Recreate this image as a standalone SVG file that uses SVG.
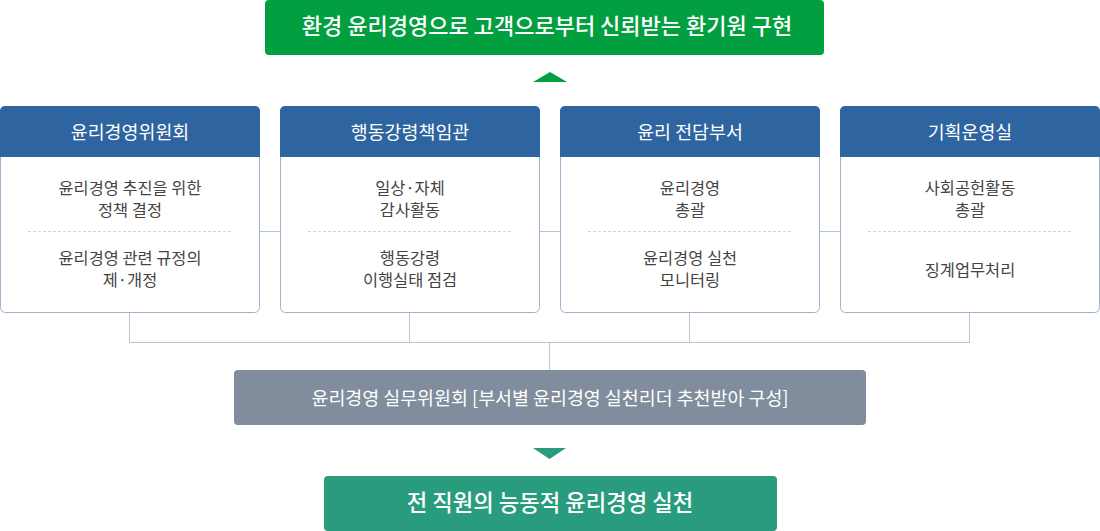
<svg xmlns="http://www.w3.org/2000/svg" width="1100" height="531" viewBox="0 0 1100 531">
<style>
text{font-family:"Noto Sans CJK KR","Noto Sans",sans-serif;text-anchor:middle}
.hd{fill:#fff;font-size:18.4px}
.bd{fill:#444;font-size:16.4px}
.frame{fill:#fff;stroke:#9fb3cc;stroke-width:1}
.head{fill:#2e64a0}
.sep{stroke:#d4d4d4;stroke-width:1;stroke-dasharray:3 2}
.con{fill:none;stroke:#b8c5d5;stroke-width:1}
</style>
<g id="goal">
<rect x="265" y="0" width="559" height="55" rx="4" fill="#029f40"/>
<text x="547" y="33.5" fill="#fff" font-size="22px" font-weight="500">환경 윤리경영으로 고객으로부터 신뢰받는 환기원 구현</text>
</g>
<g id="connectors">
<polygon points="550,72 567,82 533,82" fill="#029f40"/>
<path class="con" d="M259.5 231.5H280.5M539.5 231.5H560.5M819.5 231.5H840.5"/>
<path class="con" d="M129.5 312.5V342.5M409.5 312.5V342.5M689.5 312.5V342.5M969.5 312.5V342.5M129.5 342.5H969.5M549.5 342.5V370"/>
<polygon points="533,448 566,448 549.5,459" fill="#289c7d"/>
</g>
<g id="node1">
<rect class="frame" x="0.5" y="106.5" width="259" height="206" rx="5"/>
<path class="head" d="M0 111a5 5 0 0 1 5-5h250a5 5 0 0 1 5 5v46h-260z"/>
<text class="hd" x="130" y="139.3">윤리경영위원회</text>
<text class="bd" x="130" y="193.6">윤리경영 추진을 위한</text>
<text class="bd" x="130" y="216">정책 결정</text>
<line class="sep" x1="28" y1="231.5" x2="233" y2="231.5"/>
<text class="bd" x="130" y="263.6">윤리경영 관련 규정의</text>
<text class="bd" x="130" y="285.6">제·개정</text>
</g>
<g id="node2">
<rect class="frame" x="280.5" y="106.5" width="259" height="206" rx="5"/>
<path class="head" d="M280 111a5 5 0 0 1 5-5h250a5 5 0 0 1 5 5v46h-260z"/>
<text class="hd" x="410" y="139.3">행동강령책임관</text>
<text class="bd" x="410" y="193.6">일상·자체</text>
<text class="bd" x="410" y="216">감사활동</text>
<line class="sep" x1="308" y1="231.5" x2="513" y2="231.5"/>
<text class="bd" x="410" y="263.6">행동강령</text>
<text class="bd" x="410" y="285.6">이행실태 점검</text>
</g>
<g id="node3">
<rect class="frame" x="560.5" y="106.5" width="259" height="206" rx="5"/>
<path class="head" d="M560 111a5 5 0 0 1 5-5h250a5 5 0 0 1 5 5v46h-260z"/>
<text class="hd" x="690" y="139.3">윤리 전담부서</text>
<text class="bd" x="690" y="193.6">윤리경영</text>
<text class="bd" x="690" y="216">총괄</text>
<line class="sep" x1="588" y1="231.5" x2="793" y2="231.5"/>
<text class="bd" x="690" y="263.6">윤리경영 실천</text>
<text class="bd" x="690" y="285.6">모니터링</text>
</g>
<g id="node4">
<rect class="frame" x="840.5" y="106.5" width="259" height="206" rx="5"/>
<path class="head" d="M840 111a5 5 0 0 1 5-5h250a5 5 0 0 1 5 5v46h-260z"/>
<text class="hd" x="970" y="139.3">기획운영실</text>
<text class="bd" x="970" y="193.6">사회공헌활동</text>
<text class="bd" x="970" y="216">총괄</text>
<line class="sep" x1="868" y1="231.5" x2="1073" y2="231.5"/>
<text class="bd" x="970" y="275.6">징계업무처리</text>
</g>
<g id="working">
<rect x="234" y="370" width="632" height="55" rx="4" fill="#818d9c"/>
<text x="550" y="405" fill="#fff" font-size="18.4px">윤리경영 실무위원회 [부서별 윤리경영 실천리더 추천받아 구성]</text>
</g>
<g id="practice">
<rect x="324" y="476" width="453" height="55" rx="4" fill="#289c7d"/>
<text x="550" y="511" fill="#fff" font-size="22.3px" font-weight="500">전 직원의 능동적 윤리경영 실천</text>
</g>
</svg>
